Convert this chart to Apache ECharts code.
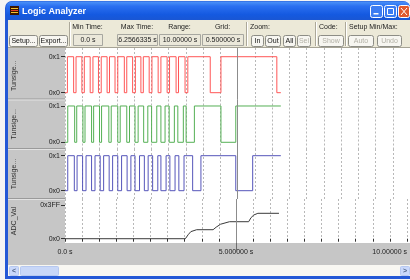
<!DOCTYPE html>
<html>
<head>
<meta charset="utf-8">
<script src="https://cdn.jsdelivr.net/npm/echarts@6/dist/echarts.min.js"></script>
<style>
  html, body { margin: 0; padding: 0; background: #f4f4f4; }
  #chart { width: 410px; height: 280px; }
</style>
</head>
<body>
<div id="chart"></div>
<script>
  // time axis, seconds
  var timeMax = 10;
  var gridStep = 0.5;
  var endTime = 6.2566335;
  var cursorTime = 5;
  var xTickLabels = { 0: '0.0 s', 5: '5.000000 s', 10: '10.00000 s' };

  // low periods [from, to] of the three logic channels
  var redLows = [[0, 0.07], [0.25, 0.32], [0.49, 0.56], [0.73, 0.81], [0.97, 1.05], [1.22, 1.29],
    [1.45, 1.53], [1.72, 1.79], [1.96, 2.04], [2.20, 2.27], [2.44, 2.52], [2.70, 2.78],
    [2.96, 3.03], [3.22, 3.29], [3.48, 3.56], [4.21, 4.52], [6.14, 6.2566335]];
  var greenLows = [[0, 0.08], [0.28, 0.34], [0.52, 0.58], [0.77, 0.83], [1.00, 1.06], [1.27, 1.34],
    [1.53, 1.60], [1.79, 1.87], [2.03, 2.12], [2.28, 2.40], [2.51, 2.66], [2.78, 2.90],
    [3.02, 3.17], [3.27, 3.43], [3.51, 3.75], [4.52, 4.95]];
  var blueLows = [[0, 0.08], [0.27, 0.35], [0.51, 0.61], [0.77, 0.87], [1.02, 1.12], [1.28, 1.38],
    [1.53, 1.64], [1.80, 1.91], [2.03, 2.16], [2.30, 2.41], [2.54, 2.69], [2.78, 2.93],
    [3.04, 3.19], [3.30, 3.45], [3.70, 3.94], [4.95, 5.44]];

  // ADC_Val samples [t, value]
  var adcPoints = [[0, 0], [3.52, 0], [3.60, 120], [3.68, 215], [3.85, 273], [4.33, 273],
    [4.42, 350], [4.55, 440], [4.81, 516], [5.37, 516], [5.44, 640], [5.52, 720],
    [5.64, 771], [6.2566335, 771]];

  var channelNames = ['Tunsige...', 'Tunsige...', 'Tunsige...', 'ADC_Val'];
  var digitalTicks = [0, 1];
  var adcTicks = [0, 1023];

  var toolbarFields = [
    ['Min Time:', '0.0 s'],
    ['Max Time:', '6.2566335 s'],
    ['Range:', '10.00000 s'],
    ['Grid:', '0.500000 s']
  ];

  // lows -> step polyline
  function toSteps(lows) {
    var pts = [[0, lows[0][0] === 0 ? 0 : 1]];
    lows.forEach(function (p) {
      if (p[0] > 0) {
        pts.push([p[0], 1]);
        pts.push([p[0], 0]);
      }
      if (p[1] < endTime) {
        pts.push([p[1], 0]);
        pts.push([p[1], 1]);
      } else {
        pts.push([endTime, 0]);
      }
    });
    var last = pts[pts.length - 1];
    if (last[0] < endTime) pts.push([endTime, last[1]]);
    return pts;
  }

  var FONT = '7px "Liberation Sans", Arial, sans-serif';
  var PANEL_GRAY = '#c6c6c6';

  // channel panels (px) and y extents so that 0x0 / 0x1 land where they should
  var panels = [
    { top: 48, height: 51.5, min: -0.189, max: 1.242, ticks: digitalTicks, color: '#ff5656', data: toSteps(redLows) },
    { top: 99.5, height: 49.5, min: -0.185, max: 1.179, ticks: digitalTicks, color: '#55b055', data: toSteps(greenLows) },
    { top: 149, height: 50, min: -0.237, max: 1.191, ticks: digitalTicks, color: '#5555ba', data: toSteps(blueLows) },
    { top: 199, height: 44, min: -130, max: 1205, ticks: adcTicks, color: '#3a3a3a', data: adcPoints }
  ];

  function txt(x, y, s, opt) {
    opt = opt || {};
    return {
      type: 'text', x: x, y: y, z: opt.z || 1, rotation: opt.rotation || 0, silent: true,
      style: {
        text: s, font: opt.font || FONT, fill: opt.fill || '#222',
        align: opt.align || 'center', textAlign: opt.align || 'center',
        verticalAlign: 'middle', textVerticalAlign: 'middle'
      }
    };
  }
  function box(x, y, w, h, fill, stroke, z, r) {
    return {
      type: 'rect', z: z || 0, silent: true,
      shape: { x: x, y: y, width: w, height: h, r: r || 0 },
      style: { fill: fill, stroke: stroke || null, lineWidth: 1 }
    };
  }
  function line(x1, y1, x2, y2, color, z) {
    return {
      type: 'line', z: z || 0, silent: true,
      shape: { x1: x1, y1: y1, x2: x2, y2: y2 },
      style: { stroke: color, lineWidth: 1 }
    };
  }
  function button(label, x, w, disabled) {
    return [
      box(x + 0.5, 35.5, w, 11, '#f7f6f1', '#8d8d86', 1, 2),
      txt(x + w / 2 + 0.5, 41, label, { fill: disabled ? '#b2b0a6' : '#111', z: 2 })
    ];
  }

  var g = [];
  // window frame + title bar
  g.push(box(5, 1, 405, 278, '#2358d6', null, -5, [7, 7, 0, 0]));
  g.push({
    type: 'rect', z: -4, silent: true,
    shape: { x: 6, y: 1.5, width: 404, height: 19, r: [6, 6, 0, 0] },
    style: {
      fill: new echarts.graphic.LinearGradient(0, 0, 0, 1, [
        { offset: 0, color: '#4d93f8' }, { offset: 0.25, color: '#2a6ff0' },
        { offset: 0.7, color: '#1459e0' }, { offset: 1, color: '#1a56d2' }
      ])
    }
  });
  g.push(box(10, 6, 9, 9, '#3a1600', null, 1));
  g.push(line(11, 8.5, 18, 8.5, '#f2c12e', 2));
  g.push(line(11, 10.5, 18, 10.5, '#e2402a', 2));
  g.push(line(11, 12.5, 18, 12.5, '#f2c12e', 2));
  g.push(txt(22, 12, 'Logic Analyzer', { font: 'bold 9px "Liberation Sans", Arial, sans-serif', fill: '#fff', align: 'left', z: 2 }));
  g.push(box(370.5, 5.5, 12, 12, '#3b7cf2', '#ffffff', 1, 2));
  g.push(box(373.5, 13, 5, 1.5, '#fff', null, 2));
  g.push(box(384.5, 5.5, 12, 12, '#3b7cf2', '#ffffff', 1, 2));
  g.push(box(387.5, 8.5, 6, 6, null, '#ffffff', 2));
  g.push(box(398.5, 5.5, 11, 12, '#e05a2e', '#ffffff', 1, 2));
  g.push(line(401, 8, 407, 15, '#fff', 2));
  g.push(line(407, 8, 401, 15, '#fff', 2));

  // toolbar
  g.push(box(8, 20, 402, 28, '#ece9d8', null, -3));
  g.push(line(8, 47.5, 410, 47.5, '#a6a395', -2));
  [69, 246, 315, 345].forEach(function (x) {
    g.push(line(x + 0.5, 22, x + 0.5, 46, '#aca899', 1));
    g.push(line(x + 1.5, 22, x + 1.5, 46, '#ffffff', 1));
  });
  var fieldBoxes = [[73, 29], [117, 40], [159, 41], [202, 41]];
  toolbarFields.forEach(function (f, i) {
    var b = fieldBoxes[i];
    g.push(txt(b[0] + b[1] / 2, 27, f[0]));
    g.push(box(b[0] + 0.5, 34.5, b[1], 11, '#ebe8da', '#a7a7a0', 1));
    g.push(txt(b[0] + b[1] / 2 + 0.5, 40, f[1], { z: 2 }));
  });
  g.push(txt(250, 27, 'Zoom:', { align: 'left' }));
  g.push(txt(319, 27, 'Code:', { align: 'left' }));
  g.push(txt(349, 27, 'Setup Min/Max:', { align: 'left' }));
  [['Setup...', 9, 28, false], ['Export...', 39, 28, false], ['In', 251, 12, false],
    ['Out', 265, 15, false], ['All', 283, 12, false], ['Sel', 297, 13, true],
    ['Show', 318, 25, true], ['Auto', 348, 25, true], ['Undo', 377, 24, true]
  ].forEach(function (b) { g = g.concat(button(b[0], b[1], b[2], b[3])); });

  // label panel, plot area, bottom band, scrollbar
  g.push(box(8, 48, 57, 195, PANEL_GRAY, null, -3));
  g.push(box(65, 48, 345, 195, '#ffffff', null, -3));
  g.push(box(8, 243, 402, 22, PANEL_GRAY, null, -3));
  g.push(box(8, 265, 402, 11, '#f8f7f2', null, -3));
  g.push(box(9.5, 266.5, 9, 9, '#c9d8fb', '#b6c8f0', -2, 1));
  g.push(txt(14, 271, '<', { fill: '#4d6185', font: 'bold 7px sans-serif' }));
  g.push(box(20.5, 266.5, 38, 9, '#c8d7f8', '#b6c8f0', -2, 1));
  g.push(box(400.5, 266.5, 9, 9, '#c9d8fb', '#b6c8f0', -2, 1));
  g.push(txt(405, 271, '>', { fill: '#4d6185', font: 'bold 7px sans-serif' }));

  panels.forEach(function (p, i) {
    if (i > 0) {
      g.push(line(8, p.top - 0.5, 65, p.top - 0.5, '#9a9a9a', -2));
      g.push(line(8, p.top + 0.5, 65, p.top + 0.5, '#e2e2e2', -2));
    }
    g.push(txt(14, p.top + p.height / 2 + (i === 0 ? 2 : 0), channelNames[i], { rotation: Math.PI / 2, fill: '#333' }));
  });

  var grids = [], xAxes = [], yAxes = [], series = [];
  panels.forEach(function (p, i) {
    var isLast = i === panels.length - 1;
    grids.push({ left: 65, width: 345, top: p.top, height: p.height, containLabel: false });
    xAxes.push({
      type: 'value', gridIndex: i, min: 0, max: timeMax, interval: gridStep,
      axisLine: { show: false },
      axisTick: { show: isLast, length: 3, lineStyle: { color: '#333' } },
      axisLabel: {
        show: isLast, fontSize: 7, color: '#222', margin: 6,
        fontFamily: '"Liberation Sans", Arial, sans-serif',
        alignMaxLabel: 'right',
        formatter: function (v) { return xTickLabels[v] || ''; }
      },
      splitLine: { show: true, lineStyle: { color: '#b8b8b8', type: [2, 2], width: 1 } }
    });
    yAxes.push({
      type: 'value', gridIndex: i, min: p.min, max: p.max,
      axisLine: { show: false },
      axisTick: { show: true, length: 4, customValues: p.ticks, lineStyle: { color: '#333' } },
      axisLabel: {
        show: true, fontSize: 7, color: '#222', margin: 5, customValues: p.ticks,
        fontFamily: '"Liberation Sans", Arial, sans-serif',
        formatter: function (v) { return '0x' + Math.round(v).toString(16).toUpperCase(); }
      },
      splitLine: { show: false }
    });
    series.push({
      type: 'line', xAxisIndex: i, yAxisIndex: i, data: p.data,
      showSymbol: false, symbol: 'none', silent: true,
      lineStyle: { color: p.color, width: 1 },
      itemStyle: { color: p.color },
      markLine: {
        silent: true, symbol: 'none', label: { show: false },
        lineStyle: { color: '#8c8c8c', type: 'solid', width: 1 },
        data: [{ xAxis: cursorTime }]
      }
    });
  });

  var myChart = echarts.init(document.getElementById('chart'));
  myChart.setOption({
    animation: false,
    backgroundColor: '#f4f4f4',
    graphic: { elements: g },
    grid: grids,
    xAxis: xAxes,
    yAxis: yAxes,
    series: series
  });

  // cursor continues into the time ruler
  var cx = Math.round(myChart.convertToPixel({ xAxisIndex: 3 }, cursorTime)) + 0.5;
  g.push(line(cx, 243, cx, 252, '#6c6c6c', 5));
  myChart.setOption({ graphic: { elements: g } });
</script>
</body>
</html>
